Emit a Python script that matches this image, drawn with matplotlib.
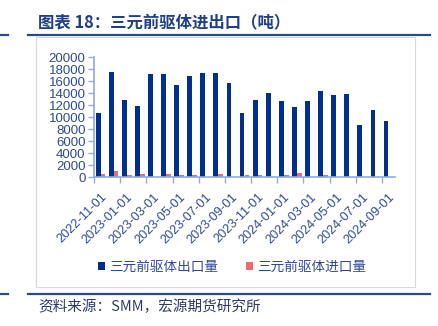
import numpy as np
import matplotlib
matplotlib.use("Agg")
from matplotlib import pyplot as plt
from matplotlib.patches import Rectangle

plt.rcParams['font.family'] = ['Liberation Sans', 'Noto Sans CJK SC', 'DejaVu Sans']

months = ['2022-11-01', '2022-12-01', '2023-01-01', '2023-02-01', '2023-03-01', '2023-04-01',
          '2023-05-01', '2023-06-01', '2023-07-01', '2023-08-01', '2023-09-01', '2023-10-01',
          '2023-11-01', '2023-12-01', '2024-01-01', '2024-02-01', '2024-03-01', '2024-04-01',
          '2024-05-01', '2024-06-01', '2024-07-01', '2024-08-01', '2024-09-01']
export_t = [10700, 17500, 12900, 11900, 17100, 17100, 15300, 16900, 17300, 17300, 15700, 10700,
            12800, 14000, 12600, 11600, 12600, 14300, 13700, 13800, 8700, 11100, 9300]
import_t = [500, 950, 300, 500, 50, 500, 300, 300, 50, 500, 50, 300,
            300, 50, 300, 600, 50, 300, 50, 50, 30, 30, 30]
y_ticks = [0, 2000, 4000, 6000, 8000, 10000, 12000, 14000, 16000, 18000, 20000]

blue = '#00308C'
red = '#EE6B6B'
txt = '#2E4A94'
line_c = '#8FAADC'

fig = plt.figure(figsize=(4.38, 3.26), dpi=100)
W, H = 438, 326

def fx(px): return px / W
def fy(py): return 1 - py / H

# chart panel with grey border
fig.patches.append(Rectangle((fx(36), fy(287)), fx(415) - fx(36), fy(37) - fy(287),
                             transform=fig.transFigure, fill=False, edgecolor='#D9D9D9', lw=0.8))

# header / footer lines
for yy in (35, 294):
    fig.add_artist(plt.Line2D([fx(28), fx(430)], [fy(yy), fy(yy)], color='#2B4A8A', lw=1.6))
    fig.add_artist(plt.Line2D([0, fx(8)], [fy(yy), fy(yy)], color='#2B4A8A', lw=1.6))

fig.text(fx(38), fy(23), '图表 18：三元前驱体进出口（吨）', fontsize=11.8, fontweight='bold',
         color='#1F3F86', va='center', ha='left', family=['Noto Sans CJK SC', 'DejaVu Sans'])
fig.text(fx(38), fy(307), '资料来源：SMM，宏源期货研究所', fontsize=10.5, style='italic',
         color='#2F3B66', va='center', ha='left', family=['Noto Sans CJK SC', 'DejaVu Sans'])

ax = fig.add_axes([fx(94), fy(177), fx(395) - fx(94), fy(57) - fy(177)])
x = np.arange(len(months))
w = 0.37
b1 = ax.bar(x - w / 2, export_t, width=w, color=blue, label='三元前驱体出口量')
b2 = ax.bar(x + w / 2, import_t, width=w, color=red, label='三元前驱体进口量')

ax.set_xlim(-0.5, len(months) - 0.5)
ax.set_ylim(0, 20000)
ax.set_yticks(y_ticks)
ax.set_yticklabels([str(v) for v in y_ticks], fontsize=9.5, color=txt)
ax.set_xticks(x[::2])
ax.set_xticklabels(months[::2], rotation=45, ha='right', rotation_mode='anchor',
                   fontsize=9.2, color=txt)
ax.set_xticks(np.arange(-0.5, len(months), 2), minor=True)
ax.tick_params(axis='x', which='major', length=0, pad=10)
ax.tick_params(axis='x', which='minor', length=4, color=line_c, width=1)
ax.tick_params(axis='y', length=4, color=line_c, width=1, pad=2)
for s in ('top', 'right'):
    ax.spines[s].set_visible(False)
for s in ('left', 'bottom'):
    ax.spines[s].set_color(line_c)
    ax.spines[s].set_linewidth(1.2)

fig.legend(handles=[b1, b2], loc='center', bbox_to_anchor=(fx(232), fy(267)), ncol=2,
           frameon=False, handlelength=0.55, handleheight=0.55,
           handletextpad=0.3, columnspacing=2.0, labelcolor=txt,
           prop={'family': ['Noto Sans CJK SC', 'DejaVu Sans'], 'size': 9.8})

fig.savefig('out.png', dpi=100)
